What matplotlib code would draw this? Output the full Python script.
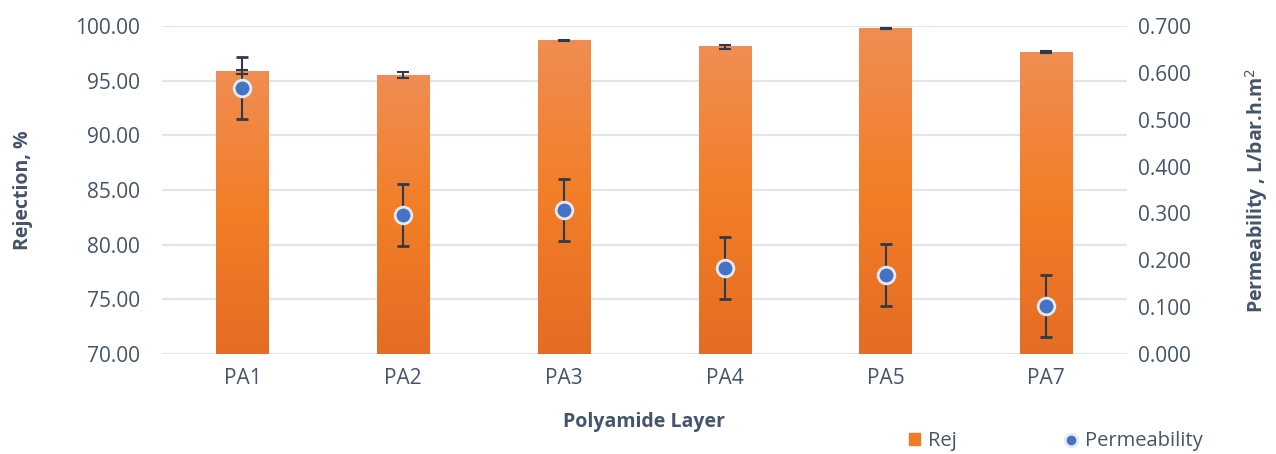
import numpy as np
import matplotlib.pyplot as plt
from matplotlib.colors import LinearSegmentedColormap

plt.rcParams["font.family"] = ["Open Sans", "DejaVu Sans"]

layers = ["PA1", "PA2", "PA3", "PA4", "PA5", "PA7"]
rej = [95.8, 95.5, 98.7, 98.1, 99.8, 97.6]
rej_err = [0.2, 0.3, 0.05, 0.2, 0.05, 0.1]
perm = [0.568, 0.297, 0.307, 0.184, 0.169, 0.102]
perm_err = [0.066, 0.066, 0.066, 0.066, 0.066, 0.066]

TXT = "#44546A"
GRID = "#E1E4EA"

fig = plt.figure(figsize=(12.76, 4.54), dpi=100)
ax = fig.add_axes([0.127, 0.2203, 0.756, 0.7224])
ax2 = ax.twinx()

x = np.arange(len(layers))
bars = ax.bar(x, rej, width=0.325, color="#F07C28", zorder=2)
ax.errorbar(x, rej, yerr=rej_err, fmt="none", ecolor="#2F3A4A",
            elinewidth=1.5, capsize=4.5, capthick=1.5, zorder=4)

# vertical gradient on bars
cmap = LinearSegmentedColormap.from_list("g", ["#E46C24", "#F27E27", "#F08D52"])
grad = np.linspace(0, 1, 256).reshape(-1, 1)
ax.set_ylim(70, 100)
for b in bars:
    x0, w, h = b.get_x(), b.get_width(), b.get_height()
    ax.imshow(grad, cmap=cmap, origin="lower", aspect="auto",
              extent=(x0, x0 + w, 70, h), zorder=2)
    b.set_visible(False)
ax.set_xlim(-0.5, len(layers) - 0.5)

ax.set_yticks(np.arange(70, 100.1, 5))
ax.set_yticklabels([f"{v:.2f}" for v in np.arange(70, 100.1, 5)])
ax.grid(axis="y", color=GRID, linewidth=1.5, zorder=0)
ax.set_axisbelow(True)
ax.set_xticks(x)
ax.set_xticklabels(layers)

ax2.errorbar(x, perm, yerr=perm_err, fmt="o", color="#4472C4",
             markersize=12, markeredgecolor="#E6E9EF", markeredgewidth=2,
             ecolor="#2F3A4A", elinewidth=1.5, capsize=4.5, capthick=1.5, zorder=5)
ax2.set_ylim(0, 0.7)
ax2.set_yticks(np.arange(0, 0.71, 0.1))
ax2.set_yticklabels([f"{v:.3f}" for v in np.arange(0, 0.71, 0.1)])
ax2.set_zorder(ax.get_zorder() + 1)

for a in (ax, ax2):
    for s in a.spines.values():
        s.set_visible(False)
    a.tick_params(length=0, labelsize=15, colors=TXT, pad=8)
ax.tick_params(axis="y", pad=16)
ax.tick_params(axis="x", pad=10)

ax.set_ylabel("Rejection, %", fontsize=14, fontweight="bold", color=TXT, labelpad=30)
ax2.set_ylabel("Permeability , L/bar.h.m$^2$", fontsize=14, fontweight="bold",
               color=TXT, labelpad=38)
ax.set_xlabel("Polyamide Layer", fontsize=14, fontweight="bold", color=TXT, labelpad=17)

h1 = plt.Rectangle((0, 0), 1, 1, color="#F07C28")
h2 = plt.Line2D([], [], marker="o", linestyle="none", color="#4472C4",
                markersize=9, markeredgecolor="#E6E9EF", markeredgewidth=2)
fig.legend([h1, h2], ["Rej", "Permeability"], loc="center left",
           bbox_to_anchor=(0.698, 0.028), ncol=2, frameon=False,
           fontsize=14.5, labelcolor=TXT, columnspacing=5.4, handlelength=0.55,
           handleheight=0.55, handletextpad=0.4)

fig.savefig("out.png", dpi=100)
